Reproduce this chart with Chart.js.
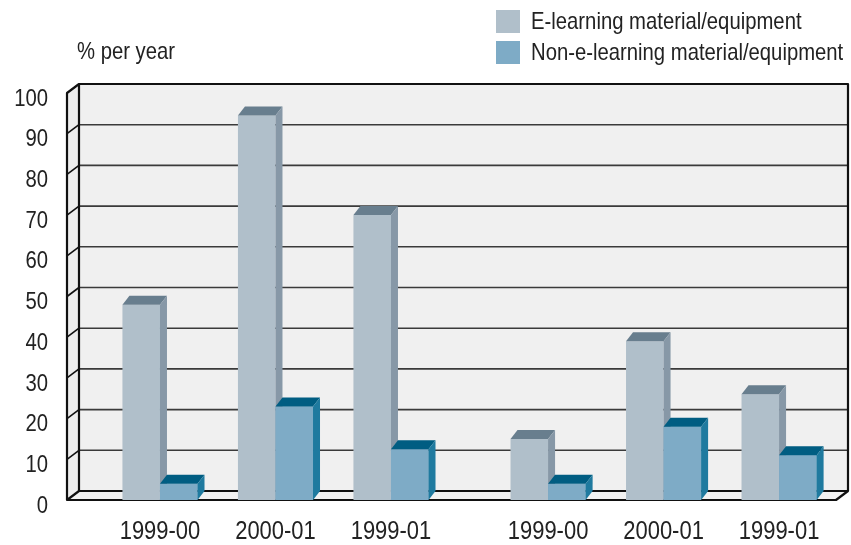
<!DOCTYPE html>
<html><head><meta charset="utf-8">
<script src="https://cdn.jsdelivr.net/npm/chart.js@4/dist/chart.umd.min.js"></script>
<style>html,body{margin:0;padding:0;background:#fff}#wrap{width:851px;height:545px}</style>
</head><body><div id="wrap"><canvas id="c" width="851" height="545"></canvas></div>
<script>
// ---- data ----
const categories = ['1999-00', '2000-01', '1999-01', '1999-00', '2000-01', '1999-01'];
const eLearning = [48, 94.5, 70, 15, 39, 26];
const nonELearning = [4, 23, 12.5, 4, 18, 11];
const seriesNames = ['E-learning material/equipment', 'Non-e-learning material/equipment'];
const yAxisUnit = '% per year';
const groupSize = 3;          // categories per visual group
const yMin = 0, yMax = 100, yStep = 10;

// ---- layout / style ----
const GROUP_GAP = 0.36;
const xPos = i => i + Math.floor(i / groupSize) * GROUP_GAP;
const FONT = '"Liberation Sans", Arial, sans-serif';
const CONDENSE = 0.845;   // horizontal text compression (condensed typeface look)
const TXT = '#222';
const WALL_DX = 12, WALL_DY = 9;
const BAR_DX = 7, BAR_DY = 9;
const colE = { front: '#b0bfca', side: '#8798a7', top: '#687e8e' };
const colN = { front: '#7eabc6', side: '#1f7a9f', top: '#005d82' };

const canvas = document.getElementById('c');
const c2d = canvas.getContext('2d');
const origFill = c2d.fillText.bind(c2d);
c2d.fillText = function (t, x, y, mw) {
  const w = this.measureText(t).width * CONDENSE;
  return origFill(t, x, y, mw !== undefined ? Math.min(mw, w) : w);
};

const panel3d = {
  id: 'panel3d',
  beforeDatasetsDraw(chart) {
    const { ctx, chartArea: a, scales: { y } } = chart;
    const L = a.left, R = a.right, T = y.getPixelForValue(yMax), B = y.getPixelForValue(yMin);
    ctx.save();
    ctx.lineJoin = 'round';
    ctx.fillStyle = '#f0f0f0';
    ctx.fillRect(L + WALL_DX, T - WALL_DY, R - L, B - T);
    ctx.beginPath();
    ctx.moveTo(L, T); ctx.lineTo(L + WALL_DX, T - WALL_DY); ctx.lineTo(L + WALL_DX, B - WALL_DY); ctx.lineTo(L, B); ctx.closePath();
    ctx.fillStyle = '#eeeeee'; ctx.fill();
    ctx.beginPath();
    ctx.moveTo(L, B); ctx.lineTo(L + WALL_DX, B - WALL_DY); ctx.lineTo(R + WALL_DX, B - WALL_DY); ctx.lineTo(R, B); ctx.closePath();
    ctx.fillStyle = '#f2f2f2'; ctx.fill();
    for (let v = yMin + yStep; v < yMax; v += yStep) {
      const py = y.getPixelForValue(v);
      ctx.beginPath();
      ctx.moveTo(L + WALL_DX, py - WALL_DY); ctx.lineTo(R + WALL_DX, py - WALL_DY);
      ctx.strokeStyle = '#3a3a3a'; ctx.lineWidth = 1.6; ctx.stroke();
      ctx.beginPath();
      ctx.moveTo(L, py); ctx.lineTo(L + WALL_DX, py - WALL_DY);
      ctx.strokeStyle = '#111'; ctx.lineWidth = 1.6; ctx.stroke();
    }
    ctx.strokeStyle = '#111';
    ctx.lineWidth = 2.2;
    ctx.strokeRect(L + WALL_DX, T - WALL_DY, R - L, B - T);
    ctx.beginPath();
    ctx.moveTo(L + WALL_DX, T - WALL_DY); ctx.lineTo(L, T); ctx.lineTo(L, B); ctx.lineTo(L + WALL_DX, B - WALL_DY);
    ctx.moveTo(L, B); ctx.lineTo(R, B); ctx.lineTo(R + WALL_DX, B - WALL_DY);
    ctx.stroke();
    ctx.restore();
  }
};

function faces(ctx, el, c) {
  const l = el.x - el.width / 2, r = el.x + el.width / 2, t = el.y, b = el.base;
  ctx.beginPath();
  ctx.moveTo(l, t); ctx.lineTo(l + BAR_DX, t - BAR_DY); ctx.lineTo(r + BAR_DX, t - BAR_DY); ctx.lineTo(r, t); ctx.closePath();
  ctx.fillStyle = c.top; ctx.fill();
  ctx.beginPath();
  ctx.moveTo(r, t); ctx.lineTo(r + BAR_DX, t - BAR_DY); ctx.lineTo(r + BAR_DX, b - BAR_DY); ctx.lineTo(r, b); ctx.closePath();
  ctx.fillStyle = c.side; ctx.fill();
}

const bars3d = {
  id: 'bars3d',
  afterDatasetsDraw(chart) {
    const ctx = chart.ctx;
    const m0 = chart.getDatasetMeta(0), m1 = chart.getDatasetMeta(1);
    ctx.save();
    for (let i = 0; i < categories.length; i++) {
      faces(ctx, m0.data[i], colE);
      m1.data[i].draw(ctx);
      faces(ctx, m1.data[i], colN);
    }
    ctx.restore();
  }
};

const textLegend = {
  id: 'textLegend',
  afterDraw(chart) {
    const ctx = chart.ctx;
    ctx.save();
    ctx.fillStyle = TXT;
    ctx.textBaseline = 'middle';
    ctx.textAlign = 'left';
    ctx.font = '24px ' + FONT;
    ctx.fillText(yAxisUnit, 77, 52);
    const cols = [colE.front, colN.front];
    const rows = [22, 53];
    seriesNames.forEach((name, i) => {
      ctx.fillStyle = cols[i];
      ctx.fillRect(496, rows[i] - 12, 24, 23);
      ctx.fillStyle = TXT;
      ctx.fillText(name, 531, rows[i]);
    });
    ctx.restore();
  }
};

const positions = categories.map((_, i) => xPos(i));

new Chart(canvas, {
  type: 'bar',
  data: {
    datasets: [
      { label: seriesNames[0], data: eLearning.map((v, i) => ({ x: xPos(i), y: v })), backgroundColor: colE.front, borderWidth: 0 },
      { label: seriesNames[1], data: nonELearning.map((v, i) => ({ x: xPos(i), y: v })), backgroundColor: colN.front, borderWidth: 0 }
    ]
  },
  options: {
    responsive: false,
    animation: false,
    events: [],
    layout: { padding: { top: 93, right: 15, left: 0, bottom: 0 } },
    datasets: { bar: { categoryPercentage: 0.65, barPercentage: 1.0 } },
    plugins: { legend: { display: false }, tooltip: { enabled: false } },
    scales: {
      x: {
        type: 'linear',
        offset: false,
        min: -0.805, max: 5.853,
        grid: { display: false, drawTicks: false },
        border: { display: false },
        afterFit: s => { s.height = 45; },
        afterBuildTicks: s => { s.ticks = positions.map(v => ({ value: v })); },
        ticks: {
          autoSkip: false, maxRotation: 0, minRotation: 0, padding: 16,
          color: TXT, font: { family: FONT, size: 26 },
          callback: (v, i) => categories[i]
        }
      },
      y: {
        min: yMin, max: yMax,
        grid: { display: false, drawTicks: false },
        border: { display: false },
        afterFit: s => { s.width = 67; },
        ticks: { stepSize: yStep, padding: 19, labelOffset: 6, color: TXT, font: { family: FONT, size: 24 } }
      }
    }
  },
  plugins: [panel3d, bars3d, textLegend]
});
</script></body></html>
